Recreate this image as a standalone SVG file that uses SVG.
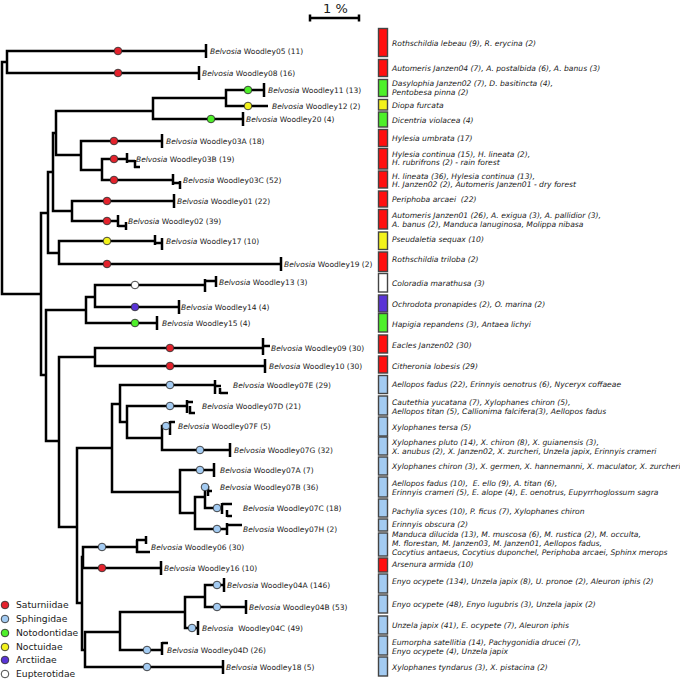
<svg xmlns="http://www.w3.org/2000/svg" width="680" height="680" viewBox="0 0 680 680">
<style>
text{font-family:"DejaVu Sans",Verdana,sans-serif;fill:#1a1a1a;white-space:pre}
.lb{font-size:7.5px}
.it{font-style:italic}
.tx{font-size:7.6px;font-style:italic}
.lg{font-size:9.2px}
.br{fill:none;stroke:#000;stroke-width:2.5;stroke-linejoin:miter}
.d{stroke:#333;stroke-width:0.9}
.bx{stroke:#444;stroke-width:1.4}
.r{fill:#e4222c}.b{fill:#a3cbf2}.g{fill:#4ef02a}.y{fill:#f3f21b}.p{fill:#5a34d6}.w{fill:#fff}
.R{fill:#ff0f0f}.B{fill:#a3cbf2}.G{fill:#4ef02a}.Y{fill:#f3f21b}.P{fill:#5a34d6}.W{fill:#fff}
</style>
<rect width="680" height="680" fill="#fff"/>
<g id="scale">
<text x="323" y="13" style="font-size:13px">1 %</text>
<path class="br" d="M310,18 H359 M310,14.5 V21.5 M359,14.5 V21.5"/>
</g>
<g id="connectors">
<path class="br" d="M7,62 H2 V294 H41"/>
<path class="br" d="M206,51 H7 V73 H199"/>
<path class="br" d="M48,213 H41 V375 H46"/>
<path class="br" d="M53,172 H48 V253 H59"/>
<path class="br" d="M56,133 H53 V211 H72"/>
<path class="br" d="M153,111 H56 V155 H81"/>
<path class="br" d="M226,98 H153 V119 H243"/>
<path class="br" d="M264,90 H226 V106 H268"/>
<path class="br" d="M162,141 H81 V170 H102"/>
<path class="br" d="M127,159 H102 V180 H173"/>
<path class="br" d="M174,201 H72 V221 H118"/>
<path class="br" d="M155,241 H59 V264 H281"/>
<path class="br" d="M86,310 H46 V441 H59"/>
<path class="br" d="M95,297 H86 V323 H157"/>
<path class="br" d="M205,285 H95 V307 H179"/>
<path class="br" d="M95,357 H59 V527 H77"/>
<path class="br" d="M263,348 H95 V366 H265"/>
<path class="br" d="M112,448 H77 V603 H82"/>
<path class="br" d="M120,404 H112 V492 H180"/>
<path class="br" d="M215,385 H120 V422 H127"/>
<path class="br" d="M187,406 H127 V438 H162"/>
<path class="br" d="M170,426 H162 V450 H230"/>
<path class="br" d="M214,470 H180 V513 H195"/>
<path class="br" d="M205,497 H195 V529 H227"/>
<path class="br" d="M208,487 H205 V508 H222"/>
<path class="br" d="M83,557 H82 V650 H85"/>
<path class="br" d="M137,547 H83 V568 H161"/>
<path class="br" d="M120,632 H85 V667 H223"/>
<path class="br" d="M185,612 H120 V650 H162"/>
<path class="br" d="M205,597 H185 V628 H198"/>
<path class="br" d="M224,585 H205 V607 H246"/>
<path class="br" d="M206,44 V58 M199,66 V80 M264,83 V97 M243,112 V126 M162,134 V148 M174,194 V208 M281,257 V271 M179,300 V314 M157,316 V330 M265,359 V373 M230,443 V457 M214,463 V477 M161,561 V575 M223,660 V674 M224,578 V592 M246,600 V614 M198,621 V635"/>
<path class="br" d="M127,153 V163 M127,161 H135 M135,160 V168 M134,167 H140"/>
<path class="br" d="M173,174 V185 M173,183 H180 M180,181 V189"/>
<path class="br" d="M118,215 V227 M118,226 H126 M126,222 V230"/>
<path class="br" d="M155,235 V245 M155,243 H162 M162,238 V250"/>
<path class="br" d="M205,279 V292 M205,281 H216 M216,276 V287"/>
<path class="br" d="M263,338 V355 M263,346 H270"/>
<path class="br" d="M215,380 V394 M215,386 H221 M220,388 V394 M220,393 H228"/>
<path class="br" d="M187,400 V413 M187,402 H193 M190,406 V413 H195"/>
<path class="br" d="M170,421 V435 M170,422 H175"/>
<path class="br" d="M208,486 V496 M208,491 H212"/>
<path class="br" d="M222,503 V514 M222,504 H232 M227,510 V517 M227,516 H232"/>
<path class="br" d="M227,523 V535 M227,525 H242"/>
<path class="br" d="M137,540 V553 M136,540 H146 M146,536 V544 M136,552 H150"/>
<path class="br" d="M162,642 V655 M162,643 H168"/>
</g>
<g id="n05"><circle class="d r" cx="118" cy="51" r="3.8"/><text class="lb" x="210" y="53.7"><tspan class="it">Belvosia</tspan> Woodley05 (11)</text></g>
<g id="n08"><circle class="d r" cx="118" cy="73" r="3.8"/><text class="lb" x="202" y="75.7"><tspan class="it">Belvosia</tspan> Woodley08 (16)</text></g>
<g id="n11"><circle class="d g" cx="248" cy="90" r="3.8"/><text class="lb" x="268" y="92.7"><tspan class="it">Belvosia</tspan> Woodley11 (13)</text></g>
<g id="n12"><circle class="d y" cx="248" cy="106" r="3.8"/><text class="lb" x="272" y="108.7"><tspan class="it">Belvosia</tspan> Woodley12 (2)</text></g>
<g id="n20"><circle class="d g" cx="211" cy="119" r="3.8"/><text class="lb" x="246" y="121.7"><tspan class="it">Belvosia</tspan> Woodley20 (4)</text></g>
<g id="n03A"><circle class="d r" cx="114" cy="141" r="3.8"/><text class="lb" x="166" y="143.7"><tspan class="it">Belvosia</tspan> Woodley03A (18)</text></g>
<g id="n03B"><circle class="d r" cx="114" cy="159" r="3.8"/><text class="lb" x="136" y="161.7"><tspan class="it">Belvosia</tspan> Woodley03B (19)</text></g>
<g id="n03C"><circle class="d r" cx="114" cy="180" r="3.8"/><text class="lb" x="183" y="182.7"><tspan class="it">Belvosia</tspan> Woodley03C (52)</text></g>
<g id="n01"><circle class="d r" cx="107" cy="201" r="3.8"/><text class="lb" x="177" y="203.7"><tspan class="it">Belvosia</tspan> Woodley01 (22)</text></g>
<g id="n02"><circle class="d r" cx="107" cy="221" r="3.8"/><text class="lb" x="128" y="223.7"><tspan class="it">Belvosia</tspan> Woodley02 (39)</text></g>
<g id="n17"><circle class="d y" cx="107" cy="241" r="3.8"/><text class="lb" x="166" y="243.7"><tspan class="it">Belvosia</tspan> Woodley17 (10)</text></g>
<g id="n19"><circle class="d r" cx="107" cy="264" r="3.8"/><text class="lb" x="284" y="266.7"><tspan class="it">Belvosia</tspan> Woodley19 (2)</text></g>
<g id="n13"><circle class="d w" cx="135" cy="285" r="3.8"/><text class="lb" x="219" y="284.7"><tspan class="it">Belvosia</tspan> Woodley13 (3)</text></g>
<g id="n14"><circle class="d p" cx="135" cy="307" r="3.8"/><text class="lb" x="181" y="309.7"><tspan class="it">Belvosia</tspan> Woodley14 (4)</text></g>
<g id="n15"><circle class="d g" cx="135" cy="323" r="3.8"/><text class="lb" x="162" y="325.7"><tspan class="it">Belvosia</tspan> Woodley15 (4)</text></g>
<g id="n09"><circle class="d r" cx="170" cy="348" r="3.8"/><text class="lb" x="271" y="350.7"><tspan class="it">Belvosia</tspan> Woodley09 (30)</text></g>
<g id="n10"><circle class="d r" cx="170" cy="366" r="3.8"/><text class="lb" x="269" y="368.7"><tspan class="it">Belvosia</tspan> Woodley10 (30)</text></g>
<g id="n07E"><circle class="d b" cx="170" cy="385" r="3.8"/><text class="lb" x="233" y="387.7"><tspan class="it">Belvosia</tspan> Woodley07E (29)</text></g>
<g id="n07D"><circle class="d b" cx="170" cy="406" r="3.8"/><text class="lb" x="202" y="408.7"><tspan class="it">Belvosia</tspan> Woodley07D (21)</text></g>
<g id="n07F"><circle class="d b" cx="166" cy="426" r="3.8"/><text class="lb" x="178" y="428.7"><tspan class="it">Belvosia</tspan> Woodley07F (5)</text></g>
<g id="n07G"><circle class="d b" cx="200" cy="450" r="3.8"/><text class="lb" x="234" y="452.7"><tspan class="it">Belvosia</tspan> Woodley07G (32)</text></g>
<g id="n07A"><circle class="d b" cx="200" cy="470" r="3.8"/><text class="lb" x="220" y="472.7"><tspan class="it">Belvosia</tspan> Woodley07A (7)</text></g>
<g id="n07B"><circle class="d b" cx="205" cy="487" r="3.8"/><text class="lb" x="220" y="489.7"><tspan class="it">Belvosia</tspan> Woodley07B (36)</text></g>
<g id="n07C"><circle class="d b" cx="217" cy="508" r="3.8"/><text class="lb" x="243" y="510.7"><tspan class="it">Belvosia</tspan> Woodley07C (18)</text></g>
<g id="n07H"><circle class="d b" cx="217" cy="529" r="3.8"/><text class="lb" x="243" y="531.7"><tspan class="it">Belvosia</tspan> Woodley07H (2)</text></g>
<g id="n06"><circle class="d b" cx="102" cy="547" r="3.8"/><text class="lb" x="151" y="549.7"><tspan class="it">Belvosia</tspan> Woodley06 (30)</text></g>
<g id="n16"><circle class="d r" cx="102" cy="568" r="3.8"/><text class="lb" x="164" y="570.7"><tspan class="it">Belvosia</tspan> Woodley16 (10)</text></g>
<g id="n04A"><circle class="d b" cx="217" cy="585" r="3.8"/><text class="lb" x="227" y="587.7"><tspan class="it">Belvosia</tspan> Woodley04A (146)</text></g>
<g id="n04B"><circle class="d b" cx="217" cy="607" r="3.8"/><text class="lb" x="249" y="609.7"><tspan class="it">Belvosia</tspan> Woodley04B (53)</text></g>
<g id="n04C"><circle class="d b" cx="192" cy="628" r="3.8"/><text class="lb" x="202" y="630.7"><tspan class="it">Belvosia</tspan>  Woodley04C (49)</text></g>
<g id="n04D"><circle class="d b" cx="147" cy="650" r="3.8"/><text class="lb" x="167" y="652.7"><tspan class="it">Belvosia</tspan> Woodley04D (26)</text></g>
<g id="n18"><circle class="d b" cx="147" cy="667" r="3.8"/><text class="lb" x="226" y="669.7"><tspan class="it">Belvosia</tspan> Woodley18 (5)</text></g>
<g id="hosts">
<g id="h1"><rect class="bx R" x="378.5" y="28.5" width="9" height="28"/><text class="tx" x="392" y="45.5">Rothschildia lebeau (9), R. erycina (2)</text></g>
<g id="h2"><rect class="bx R" x="378.5" y="59.5" width="9" height="17"/><text class="tx" x="392" y="70.5">Automeris Janzen04 (7), A. postalbida (6), A. banus (3)</text></g>
<g id="h3"><rect class="bx G" x="378.5" y="79.5" width="9" height="17"/><text class="tx" x="392" y="85.5">Dasylophia Janzen02 (7), D. basitincta (4),</text><text class="tx" x="392" y="94.5">Pentobesa pinna (2)</text></g>
<g id="h4"><rect class="bx Y" x="378.5" y="99.5" width="9" height="10.5"/><text class="tx" x="392" y="107.5">Diopa furcata</text></g>
<g id="h5"><rect class="bx G" x="378.5" y="112" width="9" height="15"/><text class="tx" x="392" y="122.5">Dicentria violacea (4)</text></g>
<g id="h6"><rect class="bx R" x="378.5" y="129.5" width="9" height="17"/><text class="tx" x="392" y="140.5">Hylesia umbrata (17)</text></g>
<g id="h7"><rect class="bx R" x="378.5" y="148.5" width="9" height="20.5"/><text class="tx" x="392" y="156.5">Hylesia continua (15), H. lineata (2),</text><text class="tx" x="392" y="164.7">H. rubrifrons (2) - rain forest</text></g>
<g id="h8"><rect class="bx R" x="378.5" y="171" width="9" height="17"/><text class="tx" x="392" y="178.5">H. lineata (36), Hylesia continua (13),</text><text class="tx" x="392" y="186.7">H. Janzen02 (2), Automeris Janzen01 - dry forest</text></g>
<g id="h9"><rect class="bx R" x="378.5" y="191" width="9" height="16"/><text class="tx" x="392" y="201.5">Periphoba arcaei  (22)</text></g>
<g id="h10"><rect class="bx R" x="378.5" y="209.5" width="9" height="19.5"/><text class="tx" x="392" y="217.5">Automeris Janzen01 (26), A. exigua (3), A. pallidior (3),</text><text class="tx" x="392" y="226.5">A. banus (2), Manduca lanuginosa, Molippa nibasa</text></g>
<g id="h11"><rect class="bx Y" x="378.5" y="232" width="9" height="17.5"/><text class="tx" x="392" y="241.7">Pseudaletia sequax (10)</text></g>
<g id="h12"><rect class="bx R" x="378.5" y="252" width="9" height="19.5"/><text class="tx" x="392" y="261.7">Rothschildia triloba (2)</text></g>
<g id="h13"><rect class="bx W" x="378.5" y="273.5" width="9" height="18.5"/><text class="tx" x="392" y="285.7">Coloradia marathusa (3)</text></g>
<g id="h14"><rect class="bx P" x="378.5" y="295" width="9" height="17"/><text class="tx" x="392" y="306.7">Ochrodota pronapides (2), O. marina (2)</text></g>
<g id="h15"><rect class="bx G" x="378.5" y="313.5" width="9" height="18.5"/><text class="tx" x="392" y="326.7">Hapigia repandens (3), Antaea lichyi</text></g>
<g id="h16"><rect class="bx R" x="378.5" y="335" width="9" height="18"/><text class="tx" x="392" y="347.7">Eacles Janzen02 (30)</text></g>
<g id="h17"><rect class="bx R" x="378.5" y="356" width="9" height="17"/><text class="tx" x="392" y="368.5">Citheronia lobesis (29)</text></g>
<g id="h18"><rect class="bx B" x="378.5" y="375.5" width="9" height="18"/><text class="tx" x="392" y="386.5">Aellopos fadus (22), Erinnyis oenotrus (6), Nyceryx coffaeae</text></g>
<g id="h19"><rect class="bx B" x="378.5" y="396" width="9" height="19"/><text class="tx" x="392" y="404.5">Cautethia yucatana (7), Xylophanes chiron (5),</text><text class="tx" x="392" y="413.5">Aellopos titan (5), Callionima falcifera(3), Aellopos fadus</text></g>
<g id="h20"><rect class="bx B" x="378.5" y="417" width="9" height="19"/><text class="tx" x="392" y="429.5">Xylophanes tersa (5)</text></g>
<g id="h21"><rect class="bx B" x="378.5" y="437" width="9" height="18"/><text class="tx" x="392" y="444.5">Xylophanes pluto (14), X. chiron (8), X. guianensis (3),</text><text class="tx" x="392" y="453.5">X. anubus (2), X. Janzen02, X. zurcheri, Unzela japix, Erinnyis crameri</text></g>
<g id="h22"><rect class="bx B" x="378.5" y="457" width="9" height="18"/><text class="tx" x="392" y="468.5">Xylophanes chiron (3), X. germen, X. hannemanni, X. maculator, X. zurcheri</text></g>
<g id="h23"><rect class="bx B" x="378.5" y="477" width="9" height="20"/><text class="tx" x="392" y="485.5">Aellopos fadus (10),  E. ello (9), A. titan (6),</text><text class="tx" x="392" y="495">Erinnyis crameri (5), E. alope (4), E. oenotrus, Eupyrrhoglossum sagra</text></g>
<g id="h24"><rect class="bx B" x="378.5" y="499" width="9" height="18"/><text class="tx" x="392" y="513.5">Pachylia syces (10), P. ficus (7), Xylophanes chiron</text></g>
<g id="h25"><rect class="bx B" x="378.5" y="519" width="9" height="12"/><text class="tx" x="392" y="526.5">Erinnyis obscura (2)</text></g>
<g id="h26"><rect class="bx B" x="378.5" y="533" width="9" height="23"/><text class="tx" x="392" y="536.7">Manduca dilucida (13), M. muscosa (6), M. rustica (2), M. occulta,</text><text class="tx" x="392" y="545.5">M. florestan, M. Janzen03, M. Janzen01, Aellopos fadus,</text><text class="tx" x="392" y="554.5">Cocytius antaeus, Cocytius duponchel, Periphoba arcaei, Sphinx merops</text></g>
<g id="h27"><rect class="bx R" x="378.5" y="558" width="9" height="14"/><text class="tx" x="392" y="566.7">Arsenura armida (10)</text></g>
<g id="h28"><rect class="bx B" x="378.5" y="574" width="9" height="19"/><text class="tx" x="392" y="583.7">Enyo ocypete (134), Unzela japix (8), U. pronoe (2), Aleuron iphis (2)</text></g>
<g id="h29"><rect class="bx B" x="378.5" y="595" width="9" height="18"/><text class="tx" x="392" y="606.5">Enyo ocypete (48), Enyo lugubris (3), Unzela japix (2)</text></g>
<g id="h30"><rect class="bx B" x="378.5" y="616" width="9" height="18"/><text class="tx" x="392" y="627.5">Unzela japix (41), E. ocypete (7), Aleuron iphis</text></g>
<g id="h31"><rect class="bx B" x="378.5" y="636" width="9" height="19"/><text class="tx" x="392" y="644.5">Eumorpha satellitia (14), Pachygonidia drucei (7),</text><text class="tx" x="392" y="653.5">Enyo ocypete (4), Unzela japix</text></g>
<g id="h32"><rect class="bx B" x="378.5" y="657" width="9" height="19"/><text class="tx" x="392" y="669.5">Xylophanes tyndarus (3), X. pistacina (2)</text></g>
</g>
<g id="legend">
<circle class="d r" cx="5" cy="605" r="3.8"/><text class="lg" x="16" y="608.3">Saturniidae</text>
<circle class="d b" cx="5" cy="619" r="3.8"/><text class="lg" x="16" y="622.3">Sphingidae</text>
<circle class="d g" cx="5" cy="633" r="3.8"/><text class="lg" x="16" y="636.3">Notodontidae</text>
<circle class="d y" cx="5" cy="647" r="3.8"/><text class="lg" x="16" y="650.3">Noctuidae</text>
<circle class="d p" cx="5" cy="660" r="3.8"/><text class="lg" x="16" y="663.3">Arctiidae</text>
<circle class="d w" cx="5" cy="674" r="3.8"/><text class="lg" x="16" y="677.3">Eupterotidae</text>
</g>
</svg>
